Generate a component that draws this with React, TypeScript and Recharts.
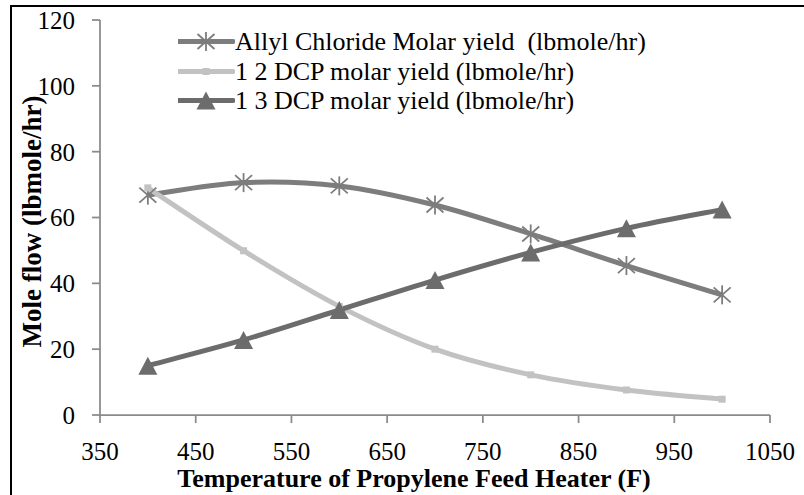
import React from "react";
import { LineChart, Line, XAxis, YAxis, Legend, Label } from "recharts";

// feed heater temperature (F) and molar yields (lbmole/hr)
const temperatures = [400, 500, 600, 700, 800, 900, 1000];
const allylChloride = [66.8, 70.6, 69.6, 63.8, 55.0, 45.4, 36.5];
const dcp12 = [69.0, 49.9, 33.0, 20.0, 12.2, 7.6, 4.8];
const dcp13 = [15.0, 22.8, 31.9, 41.0, 49.4, 56.7, 62.4];

const xTicks = [350, 450, 550, 650, 750, 850, 950, 1050];
const yTicks = [0, 20, 40, 60, 80, 100, 120];

const FONT = "'Liberation Serif', 'Times New Roman', serif";

const data = temperatures.map((t, i) => ({
  temp: t,
  allyl: allylChloride[i],
  dcp12: dcp12[i],
  dcp13: dcp13[i],
}));

type Marker = "star" | "square" | "triangle";

const series: { key: string; name: string; color: string; marker: Marker }[] = [
  { key: "allyl", name: "Allyl Chloride Molar yield  (lbmole/hr)", color: "#7d7d7d", marker: "star" },
  { key: "dcp12", name: "1 2 DCP molar yield (lbmole/hr)", color: "#c2c2c2", marker: "square" },
  { key: "dcp13", name: "1 3 DCP molar yield (lbmole/hr)", color: "#6c6c6c", marker: "triangle" },
];

// Excel-style smoothed line: cubic bezier through every point (Catmull-Rom tangents)
function smoothCurve(context: any) {
  let pts: number[][] = [];
  return {
    areaStart() {},
    areaEnd() {},
    lineStart() {
      pts = [];
    },
    point(x: number, y: number) {
      pts.push([+x, +y]);
    },
    lineEnd() {
      const n = pts.length;
      if (!n) return;
      context.moveTo(pts[0][0], pts[0][1]);
      for (let i = 0; i < n - 1; i++) {
        const p0 = pts[Math.max(i - 1, 0)];
        const p1 = pts[i];
        const p2 = pts[i + 1];
        const p3 = pts[Math.min(i + 2, n - 1)];
        context.bezierCurveTo(
          p1[0] + (p2[0] - p0[0]) / 6,
          p1[1] + (p2[1] - p0[1]) / 6,
          p2[0] - (p3[0] - p1[0]) / 6,
          p2[1] - (p3[1] - p1[1]) / 6,
          p2[0],
          p2[1]
        );
      }
    },
  };
}

function markerShape(marker: Marker, cx: number, cy: number, color: string, k?: React.Key) {
  if (marker === "star") {
    return (
      <g key={k} stroke={color} strokeWidth={1.8} fill="none">
        <line x1={cx} y1={cy - 9.5} x2={cx} y2={cy + 9.5} />
        <line x1={cx - 8.5} y1={cy - 7.5} x2={cx + 8.5} y2={cy + 7.5} />
        <line x1={cx - 8.5} y1={cy + 7.5} x2={cx + 8.5} y2={cy - 7.5} />
      </g>
    );
  }
  if (marker === "square") {
    return <rect key={k} x={cx - 3.5} y={cy - 3.5} width={7} height={7} fill={color} />;
  }
  return (
    <path
      key={k}
      d={`M${cx},${cy - 9} L${cx + 9.5},${cy + 9} L${cx - 9.5},${cy + 9} Z`}
      fill={color}
    />
  );
}

function renderLegend() {
  return (
    <div style={{ fontFamily: FONT, fontSize: 26, color: "#000" }}>
      {series.map((s) => (
        <div key={s.key} style={{ display: "flex", alignItems: "center", height: 29.5 }}>
          <svg width={57} height={29} style={{ flexShrink: 0 }}>
            <line x1={0} y1={14.5} x2={55} y2={14.5} stroke={s.color} strokeWidth={5} strokeLinecap="round" />
            {markerShape(s.marker, 28, 14.5, s.color)}
          </svg>
          <span style={{ whiteSpace: "pre", lineHeight: "29px" }}>{s.name}</span>
        </div>
      ))}
    </div>
  );
}

const tickStyle = { fontFamily: FONT, fontSize: 25, fill: "#000" };

export default function App() {
  return (
    <div style={{ position: "absolute", left: 0, top: 0, width: 804, height: 495, background: "#fff" }}>
      <div
        style={{
          position: "absolute",
          left: 10,
          top: 5,
          width: 794,
          height: 488,
          borderLeft: "2px solid #000",
          borderTop: "2px solid #000",
          borderBottom: "1px solid #d4d4d4",
        }}
      />
      <LineChart
        width={804}
        height={495}
        data={data}
        margin={{ top: 20, right: 34, bottom: 0, left: 0 }}
        style={{ position: "absolute", left: 0, top: 0 }}
      >
        <XAxis
          dataKey="temp"
          type="number"
          domain={[350, 1050]}
          ticks={xTicks}
          height={80}
          tickSize={8}
          tickMargin={19}
          stroke="#8a8a8a"
          strokeWidth={1.75}
          tick={tickStyle}
        >
          <Label
            content={(props: any) => {
              const vb = props.viewBox || { x: 100, y: 415, width: 670, height: 80 };
              return (
                <text
                  x={vb.x + vb.width / 2 - 21}
                  y={487}
                  textAnchor="middle"
                  fontFamily={FONT}
                  fontSize={26}
                  fontWeight="bold"
                  fill="#000"
                >
                  Temperature of Propylene Feed Heater (F)
                </text>
              );
            }}
          />
        </XAxis>
        <YAxis
          type="number"
          domain={[0, 120]}
          ticks={yTicks}
          width={100}
          tickSize={8}
          tickMargin={17}
          stroke="#8a8a8a"
          strokeWidth={1.75}
          tick={tickStyle}
        >
          <Label
            content={(props: any) => {
              const vb = props.viewBox || { x: 0, y: 20, width: 100, height: 395 };
              const cx = vb.x + 32;
              const cy = vb.y + vb.height / 2 + 4;
              return (
                <text
                  x={cx}
                  y={cy}
                  dy={9}
                  transform={`rotate(-90, ${cx}, ${cy})`}
                  textAnchor="middle"
                  fontFamily={FONT}
                  fontSize={27}
                  fontWeight="bold"
                  fill="#000"
                >
                  Mole flow (lbmole/hr)
                </text>
              );
            }}
          />
        </YAxis>
        <Legend
          layout="vertical"
          align="center"
          verticalAlign="middle"
          content={renderLegend}
          wrapperStyle={{ top: 27, left: 178, width: 600, height: 90 }}
        />
        {series.map((s) => (
          <Line
            key={s.key}
            dataKey={s.key}
            name={s.name}
            type={smoothCurve as any}
            stroke={s.color}
            strokeWidth={5}
            isAnimationActive={false}
            activeDot={false}
            dot={(p: any) => markerShape(s.marker, p.cx, p.cy, s.color, `${s.key}-${p.index}`)}
          />
        ))}
      </LineChart>
    </div>
  );
}
